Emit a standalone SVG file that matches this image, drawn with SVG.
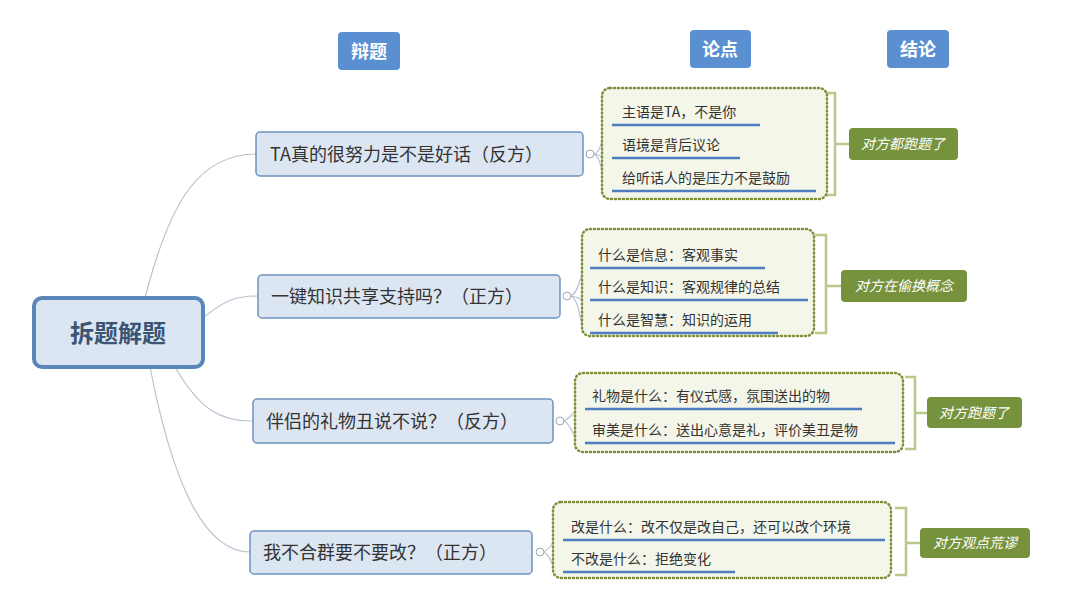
<svg xmlns="http://www.w3.org/2000/svg" width="1080" height="590" viewBox="0 0 1080 590">
<style>
text{font-family:"Noto Sans CJK SC","Noto Sans",sans-serif;fill:#333}
.hdr rect{fill:#5a8fd2;rx:4}
.hdr text{fill:#fff;font-size:18px;font-weight:bold;text-anchor:middle}
.topic rect{fill:#dce6f2;stroke:#6e93bd;stroke-width:1.5}
.topic text{font-size:18px}
.grp{fill:#f4f6ea;stroke:#7f8f3a;stroke-width:2.5;stroke-dasharray:1 3;stroke-linecap:round}
.it{font-size:14px}
.ul{stroke:#4f7ec0;stroke-width:2.5}
.br{fill:none;stroke:#b8c88a;stroke-width:2.5}
.con rect{fill:#76923c}
.con text{fill:#fff;font-size:14px;font-style:italic;text-anchor:middle}
.c{fill:none;stroke:#b9c3cf;stroke-width:1.2}
.k{fill:#fff;stroke:#9aa6b4;stroke-width:1}
</style>
<rect width="1080" height="590" fill="#fff"/>
<g id="connectors">
<path class="c" d="M145 298 C170 200,200 154,256 154"/>
<path class="c" d="M203 318 C225 300,235 296,258 296"/>
<path class="c" d="M175 367 C200 410,220 421,253 421"/>
<path class="c" d="M150 367 C170 470,200 552,250 552"/>
<path class="c" d="M594 154 C605 150,600 125,612 125 M594 154 C605 156,600 158,612 158 M594 154 C605 160,600 191,612 191"/>
<path class="c" d="M571 296 C582 290,578 268,590 268 M571 296 C582 298,578 300,590 300 M571 296 C582 302,578 333,590 333"/>
<path class="c" d="M564 421 C574 416,572 409,585 409 M564 421 C574 426,572 443,585 443"/>
<path class="c" d="M544 552 C554 546,550 540,563 540 M544 552 C554 558,550 572,563 572"/>
<path class="br" d="M825 93 H835 V195 H825 M835 144 H849"/>
<path class="br" d="M815 235 H826 V333 H815 M826 286 H841"/>
<path class="br" d="M905 377 H915 V449 H905 M915 413 H927"/>
<path class="br" d="M895 508 H906 V575 H895 M906 543 H920"/>
</g>
<g id="headers" class="hdr">
<g id="h1"><rect x="338" y="32" width="62" height="38"/><text x="369" y="58">辩题</text></g>
<g id="h2"><rect x="690" y="30" width="61" height="38"/><text x="720" y="56">论点</text></g>
<g id="h3"><rect x="887" y="30" width="62" height="38"/><text x="918" y="56">结论</text></g>
</g>
<g id="root"><rect x="34" y="298" width="169" height="69" rx="8" fill="#dce6f2" stroke="#5b86b8" stroke-width="4"/><text x="118" y="342" font-size="24" font-weight="bold" text-anchor="middle" style="fill:#3b5472">拆题解题</text></g>
<g id="t1" class="topic"><rect x="256" y="132" width="327" height="44" rx="4"/><text x="270" y="161">TA真的很努力是不是好话（反方）</text></g>
<g id="t2" class="topic"><rect x="258" y="275" width="302" height="43" rx="4"/><text x="271" y="303">一键知识共享支持吗？（正方）</text></g>
<g id="t3" class="topic"><rect x="253" y="399" width="300" height="44" rx="4"/><text x="266" y="428">伴侣的礼物丑说不说？（反方）</text></g>
<g id="t4" class="topic"><rect x="250" y="531" width="282" height="43" rx="4"/><text x="263" y="559">我不合群要不要改？（正方）</text></g>
<g id="knobs"><circle class="k" cx="590" cy="154" r="4"/><circle class="k" cx="567" cy="296" r="4"/><circle class="k" cx="560" cy="421" r="4"/><circle class="k" cx="540" cy="552" r="4"/></g>
<g id="g1"><rect class="grp" x="602" y="88" width="225" height="111" rx="8"/>
<text class="it" x="622" y="117">主语是TA，不是你</text><line class="ul" x1="612" y1="125" x2="760" y2="125"/>
<text class="it" x="622" y="150">语境是背后议论</text><line class="ul" x1="612" y1="158" x2="740" y2="158"/>
<text class="it" x="622" y="183">给听话人的是压力不是鼓励</text><line class="ul" x1="612" y1="191" x2="816" y2="191"/></g>
<g id="g2"><rect class="grp" x="582" y="229" width="232" height="107" rx="8"/>
<text class="it" x="598" y="260">什么是信息：客观事实</text><line class="ul" x1="590" y1="268" x2="765" y2="268"/>
<text class="it" x="598" y="292">什么是知识：客观规律的总结</text><line class="ul" x1="590" y1="300" x2="808" y2="300"/>
<text class="it" x="598" y="325">什么是智慧：知识的运用</text><line class="ul" x1="590" y1="333" x2="778" y2="333"/></g>
<g id="g3"><rect class="grp" x="575" y="373" width="328" height="79" rx="8"/>
<text class="it" x="592" y="401">礼物是什么：有仪式感，氛围送出的物</text><line class="ul" x1="585" y1="409" x2="862" y2="409"/>
<text class="it" x="592" y="435">审美是什么：送出心意是礼，评价美丑是物</text><line class="ul" x1="585" y1="443" x2="895" y2="443"/></g>
<g id="g4"><rect class="grp" x="553" y="502" width="338" height="76" rx="8"/>
<text class="it" x="571" y="532">改是什么：改不仅是改自己，还可以改个环境</text><line class="ul" x1="563" y1="540" x2="885" y2="540"/>
<text class="it" x="571" y="564">不改是什么：拒绝变化</text><line class="ul" x1="563" y1="572" x2="735" y2="572"/></g>
<g id="c1" class="con"><rect x="849" y="128" width="109" height="32" rx="4"/><text x="903" y="149">对方都跑题了</text></g>
<g id="c2" class="con"><rect x="841" y="270" width="126" height="32" rx="4"/><text x="904" y="291">对方在偷换概念</text></g>
<g id="c3" class="con"><rect x="927" y="397" width="95" height="31" rx="4"/><text x="974" y="418">对方跑题了</text></g>
<g id="c4" class="con"><rect x="920" y="528" width="110" height="30" rx="4"/><text x="975" y="548">对方观点荒谬</text></g>
</svg>
